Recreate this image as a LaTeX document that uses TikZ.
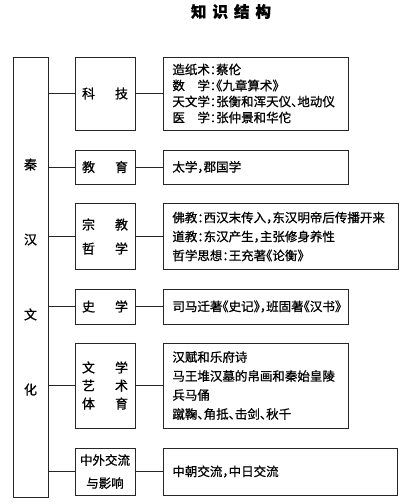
\documentclass[tikz,border=0pt]{standalone}
\usepackage{fontspec}
\newfontfamily\cjk[RawFeature=+halt, FakeBold=0.8]{Noto Sans CJK SC}
\usetikzlibrary{positioning}

\tikzset{
  frame/.style={draw=black!85, line width=0.8pt, inner sep=0pt},
  topic/.style={frame, minimum width=60pt, align=center, font=\cjk\fontsize{13}{18}\selectfont},
  detail/.style={frame, anchor=west, inner xsep=9pt, align=left, font=\cjk\fontsize{12.5}{16}\selectfont},
  link/.style={draw=black!85, line width=0.8pt}
}

\begin{document}
\begin{tikzpicture}[x=1pt,y=-1pt]
    \useasboundingbox (0,0) rectangle (409,504);
    \node[font=\cjk\bfseries\fontsize{15.5}{15.5}\selectfont] (title) at (231,11.5) {知\hspace{6pt}识\hspace{6pt}结\hspace{6pt}构};

    \node[frame, minimum width=35pt, minimum height=440pt, align=center, font=\cjk\fontsize{13}{75}\selectfont] (qinhan) at (30.5,277) {秦\\汉\\文\\化};

    % middle column
    \node[topic, minimum height=73pt] (keji) at (105,93.5) {科\hspace{20pt}技};
    \node[topic, minimum height=34pt] (jiaoyu) at (105,167) {教\hspace{20pt}育};
    \node[topic, minimum height=66pt, font=\cjk\fontsize{13}{24}\selectfont] (zongjiao) at (105,236.5) {宗\hspace{20pt}教\\哲\hspace{20pt}学};
    \node[topic, minimum height=35pt] (shixue) at (105,306.5) {史\hspace{20pt}学};
    \node[topic, minimum height=85pt] (wenyi) at (105,385.5) {文\hspace{20pt}学\\艺\hspace{20pt}术\\体\hspace{20pt}育};
    \node[topic, minimum height=47pt, font=\cjk\fontsize{12.5}{23}\selectfont] (jiaoliu) at (105,471.5) {中外交流\\与影响};

    % right column
    \node[detail, text width=167pt, minimum height=73pt] (keji-r) at (163,93.5) {造纸术：蔡伦\\数\hspace{12.5pt}学：《九章算术》\\天文学：张衡和浑天仪、地动仪\\医\hspace{12.5pt}学：张仲景和华佗};
    \node[detail, text width=167pt, minimum height=34pt] (jiaoyu-r) at (163,167) {太学，郡国学};
    \node[detail, text width=217pt, minimum height=66pt, font=\cjk\fontsize{12.5}{19}\selectfont] (zongjiao-r) at (163,236.5) {佛教：西汉末传入，东汉明帝后传播开来\\道教：东汉产生，主张修身养性\\哲学思想：王充著《论衡》};
    \node[detail, text width=167pt, minimum height=35pt] (shixue-r) at (163,306.5) {司马迁著《史记》，班固著《汉书》};
    \node[detail, text width=167pt, minimum height=85pt, font=\cjk\fontsize{12.5}{19}\selectfont] (wenyi-r) at (163,385.5) {汉赋和乐府诗\\马王堆汉墓的帛画和秦始皇陵\\兵马俑\\蹴鞠、角抵、击剑、秋千};
    \node[detail, text width=216pt, minimum height=47pt] (jiaoliu-r) at (163,471.5) {中朝交流，中日交流};

    \foreach \t in {keji,jiaoyu,zongjiao,shixue,wenyi,jiaoliu}{
      \draw[link] (qinhan.east |- \t.west) -- (\t.west);
      \draw[link] (\t.east) -- (\t-r.west);
    }
\end{tikzpicture}
\end{document}
